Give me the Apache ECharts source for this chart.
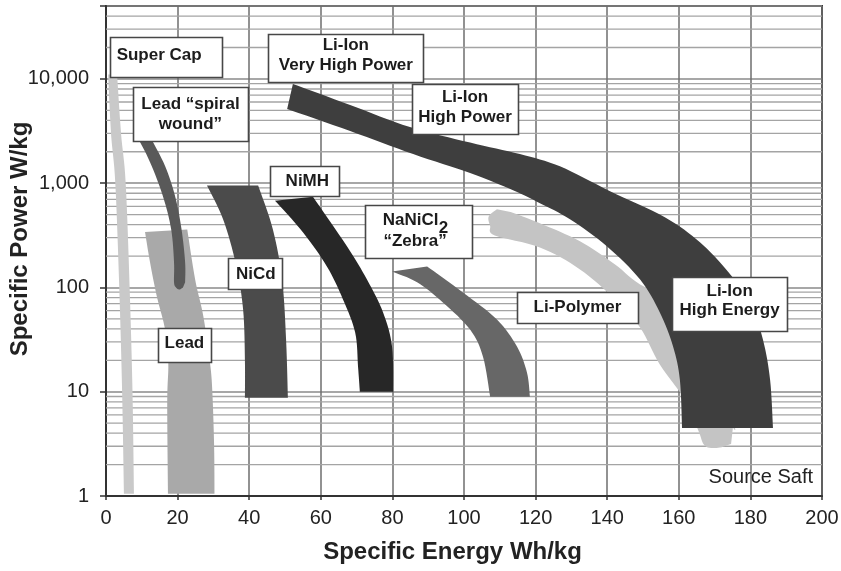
<!DOCTYPE html>
<html>
<head>
<meta charset="utf-8">
<title>Ragone plot</title>
<script src="https://cdn.jsdelivr.net/npm/echarts@6/dist/echarts.min.js"></script>
<style>
  html, body { margin: 0; padding: 0; background: #ffffff; }
  #chart { width: 841px; height: 571px; }
</style>
</head>
<body>
<div id="chart"></div>
<script>
// Specific energy (Wh/kg) vs specific power (W/kg) envelopes of storage technologies.
// Each envelope is described by two edges, [energy, power] pairs.

const powerTicks = [1, 10, 100, 1000, 10000];

const superCapLeft  = [[0.6, 11000], [1.4, 3000], [2.6, 1000], [3.7, 100], [4.5, 10], [5.0, 1.05]];
const superCapRight = [[7.8, 1.05], [7.4, 10], [6.6, 100], [5.5, 1000], [4.2, 3000], [3.1, 11000]];

const leadLeft  = [[10.9, 340], [12.3, 174], [14.2, 82], [16.5, 39.4], [17.4, 19], [17.1, 8], [17.3, 1.05]];
const leadRight = [[30.3, 1.05], [30.2, 3], [29.7, 10], [29.05, 19], [27.2, 52.6], [24.9, 119], [22.7, 360]];

const spiralLeft  = [[8.7, 2800], [12.3, 1590], [15.9, 750], [18.2, 361], [19.0, 174], [19.0, 112],
                     [19.55, 100], [20.5, 95.5], [21.5, 100]];
const spiralRight = [[22.1, 112], [22.1, 174], [21.1, 361], [19.3, 750], [16.5, 1460], [12.3, 2800]];

const nicdLeft  = [[28.2, 950], [32.7, 451], [36.3, 166], [38.3, 61.4], [38.8, 20.3], [38.8, 8.75]];
const nicdRight = [[50.8, 8.75], [50.3, 31.6], [49.2, 119], [46.6, 361], [42.5, 950]];

const nimhLeft  = [[47.2, 680], [55.0, 338], [61.7, 159], [66.2, 76.7], [69.6, 36.9], [70.4, 17.4], [70.9, 10]];
const nimhRight = [[80.2, 10], [79.9, 27.1], [77.4, 57.5], [72.9, 119], [67.3, 248], [57.8, 740]];

const zebraLower = [[79.9, 142], [86.9, 112], [94.1, 71.8], [101.7, 39.4], [105.3, 21.7], [107.3, 8.95]];
const zebraUpper = [[118.4, 8.95], [117.6, 15.2], [114.8, 27.1], [109.2, 49.2], [99.7, 89.5], [89.7, 159]];

const liPolyLower = [[109.2, 562], [106.9, 480], [107.3, 390], [108.6, 315], [121.2, 242], [132.4, 149],
                     [142.2, 76.7], [149.2, 41.2], [154.7, 18.2], [161.7, 8.4], [165.4, 4.3],
                     [167.3, 3.03], [171.0, 2.9], [174.6, 3.16]];
const liPolyUpper = [[175.1, 4.5], [175.1, 5.38], [165.9, 49.2], [149.2, 107], [142.2, 166], [132.4, 277],
                     [121.2, 412], [113.0, 530]];

const liIonUpper = [[52.2, 8950], [68.2, 5620], [84.9, 3450], [101.7, 2450], [115.6, 1900], [126.8, 1450],
                    [140.8, 838], [156.1, 471], [165.9, 271], [173.7, 142], [179.9, 71.8], [183.5, 31.6],
                    [185.5, 13.0], [186.3, 4.5]];
const liIonLower = [[160.9, 4.5], [160.3, 13.0], [158.4, 27.1], [154.7, 57.5], [149.2, 119], [139.9, 248],
                    [129.6, 451], [121.2, 642], [113.7, 856], [101.7, 1250], [85.8, 1900], [68.2, 3160],
                    [50.6, 5150]];

// Minor power grid: 2..9 times each decade, up to the top of the axis.
const minorPowerLines = [];
for (let k = 0; k <= 4; k++) {
  for (let m = 2; m <= 9; m++) {
    const v = m * Math.pow(10, k);
    if (v < 50000) minorPowerLines.push(v);
  }
}

const FONT = '"Liberation Sans", Arial, Helvetica, sans-serif';

// Label boxes: anchor in data units, box size and text offsets in pixels.
const notes = [
  { at: [16.8, 16300], w: 112, h: 40, pieces: [['Super Cap', -7, -1]] },
  { at: [23.6, 4610], w: 115, h: 54, pieces: [['Lead \u201Cspiral', 0, -10], ['wound\u201D', 0, 10]] },
  { at: [67.0, 15900], w: 155, h: 48, pieces: [['Li-Ion', 0, -13], ['Very High Power', 0, 7]] },
  { at: [100.3, 5150], w: 106, h: 50, pieces: [['Li-Ion', 0, -12], ['High Power', 0, 8]] },
  { at: [55.4, 1045], w: 69, h: 30, pieces: [['NiMH', 3, 0]] },
  { at: [41.6, 135], w: 54, h: 31, pieces: [['NiCd', 1, 0]] },
  { at: [21.9, 28.3], w: 53, h: 34, pieces: [['Lead', 0, -1]] },
  { at: [87.3, 342], w: 107, h: 53, pieces: [['NaNiCl', -8, -11], ['2', 25, -3], ['\u201CZebra\u201D', -3.5, 10]] },
  { at: [131.7, 64.9], w: 121, h: 31, pieces: [['Li-Polymer', 0, 0]] },
  { at: [174.2, 68.7], w: 115, h: 54, pieces: [['Li-Ion', 0, -13], ['High Energy', 0, 6]] }
];
const sourceNote = { at: [197.5, 1.52], text: 'Source Saft' };

// Catmull-Rom smoothing of a pixel polyline.
function smoothEdge(pts, steps) {
  const out = [pts[0]];
  for (let i = 0; i < pts.length - 1; i++) {
    const p0 = pts[i - 1] || pts[i], p1 = pts[i], p2 = pts[i + 1], p3 = pts[i + 2] || pts[i + 1];
    const c1 = [p1[0] + (p2[0] - p0[0]) / 6, p1[1] + (p2[1] - p0[1]) / 6];
    const c2 = [p2[0] - (p3[0] - p1[0]) / 6, p2[1] - (p3[1] - p1[1]) / 6];
    for (let s = 1; s <= steps; s++) {
      const t = s / steps, u = 1 - t;
      const a = u * u * u, b = 3 * u * u * t, c = 3 * u * t * t, d = t * t * t;
      out.push([a * p1[0] + b * c1[0] + c * c2[0] + d * p2[0],
                a * p1[1] + b * c1[1] + c * c2[1] + d * p2[1]]);
    }
  }
  return out;
}

function bandSeries(name, edgeA, edgeB, color, z) {
  return {
    type: 'custom',
    name: name,
    coordinateSystem: 'cartesian2d',
    z: z,
    silent: true,
    data: edgeA.concat(edgeB),
    encode: { x: 0, y: 1 },
    renderItem: function (params, api) {
      if (params.dataIndex !== 0) return null;
      const a = smoothEdge(edgeA.map(p => api.coord(p)), 8);
      const b = smoothEdge(edgeB.map(p => api.coord(p)), 8);
      return { type: 'polygon', shape: { points: a.concat(b) }, style: { fill: color } };
    }
  };
}

const isPowerOfTen = v => Math.abs(Math.log10(v) - Math.round(Math.log10(v))) < 1e-6;

const option = {
  animation: false,
  backgroundColor: '#ffffff',
  textStyle: { fontFamily: FONT },
  grid: {
    left: 106, right: 19, top: 6, bottom: 75,
    containLabel: false, outerBoundsMode: 'none',
    show: true, borderColor: '#3a3a3a', borderWidth: 2
  },
  xAxis: {
    type: 'value', min: 0, max: 200, interval: 20,
    axisLine: { show: true, onZero: false, lineStyle: { color: '#333', width: 2 } },
    axisTick: { show: true, length: 4, lineStyle: { color: '#333', width: 1.5 } },
    axisLabel: { fontSize: 20, color: '#222', margin: 12, fontFamily: FONT },
    splitLine: { show: true, lineStyle: { color: '#6e6e6e', width: 1.5 } },
    name: 'Specific Energy Wh/kg', nameLocation: 'middle', nameGap: 44, nameMoveOverlap: false,
    nameTextStyle: { fontSize: 24, fontWeight: 'bold', color: '#222', fontFamily: FONT, padding: [0, 23, 0, 0] }
  },
  yAxis: {
    type: 'log', logBase: 10, min: 1, max: 50000,
    axisLine: { show: true, onZero: false, lineStyle: { color: '#333', width: 2 } },
    axisTick: { show: true, length: 6, lineStyle: { color: '#333', width: 1.5 } },
    axisLabel: {
      fontSize: 20, color: '#222', margin: 17, fontFamily: FONT,
      formatter: v => (isPowerOfTen(v) && powerTicks.includes(Math.round(v))) ? Math.round(v).toLocaleString('en-US') : ''
    },
    splitLine: { show: true, lineStyle: { color: '#8a8a8a', width: 1.5 } },
    name: 'Specific Power W/kg', nameLocation: 'middle', nameGap: 74, nameMoveOverlap: false,
    nameTextStyle: { fontSize: 24, fontWeight: 'bold', color: '#222', fontFamily: FONT, padding: [0, 0, 0, 24] }
  },
  series: [
    {
      type: 'custom', name: 'minor grid', coordinateSystem: 'cartesian2d', z: 1, silent: true,
      data: minorPowerLines.map(v => [0, v]),
      encode: { x: 0, y: 1 },
      renderItem: function (params, api) {
        const v = api.value(1);
        const p1 = api.coord([0, v]), p2 = api.coord([200, v]);
        return { type: 'line', shape: { x1: p1[0], y1: p1[1], x2: p2[0], y2: p2[1] },
                 style: { stroke: '#a4a4a4', lineWidth: 1.3 } };
      }
    },
    bandSeries('Super Cap', superCapLeft, superCapRight, '#c9c9c9', 3),
    bandSeries('Lead', leadLeft, leadRight, '#a9a9a9', 4),
    bandSeries('Lead spiral wound', spiralLeft, spiralRight, '#595959', 5),
    bandSeries('NiCd', nicdLeft, nicdRight, '#4b4b4b', 6),
    bandSeries('NiMH', nimhLeft, nimhRight, '#272727', 7),
    bandSeries('NaNiCl2 Zebra', zebraLower, zebraUpper, '#676767', 8),
    bandSeries('Li-Polymer', liPolyLower, liPolyUpper, '#c4c4c4', 9),
    bandSeries('Li-Ion', liIonUpper, liIonLower, '#3e3e3e', 10),
    {
      type: 'custom', name: 'labels', coordinateSystem: 'cartesian2d', z: 20, silent: true,
      data: notes.map(n => n.at),
      encode: { x: 0, y: 1 },
      renderItem: function (params, api) {
        const n = notes[params.dataIndex];
        const c = api.coord([api.value(0), api.value(1)]);
        const children = [{
          type: 'rect',
          shape: { x: Math.round(c[0] - n.w / 2) + 0.5, y: Math.round(c[1] - n.h / 2) + 0.5, width: n.w, height: n.h },
          style: { fill: '#ffffff', stroke: '#474747', lineWidth: 1.6 }
        }];
        n.pieces.forEach(function (p) {
          children.push({
            type: 'text', x: c[0] + p[1], y: c[1] + p[2],
            style: { text: p[0], font: 'bold 17px ' + FONT, fill: '#1c1c1c', align: 'center', verticalAlign: 'middle' }
          });
        });
        return { type: 'group', children: children };
      }
    },
    {
      type: 'custom', name: 'source', coordinateSystem: 'cartesian2d', z: 20, silent: true,
      data: [sourceNote.at],
      encode: { x: 0, y: 1 },
      renderItem: function (params, api) {
        const c = api.coord([api.value(0), api.value(1)]);
        return { type: 'text', x: c[0], y: c[1],
                 style: { text: sourceNote.text, font: '20px ' + FONT, fill: '#222', align: 'right', verticalAlign: 'middle' } };
      }
    }
  ]
};

const chart = echarts.init(document.getElementById('chart'), null, { renderer: 'canvas' });
chart.setOption(option);
</script>
</body>
</html>
